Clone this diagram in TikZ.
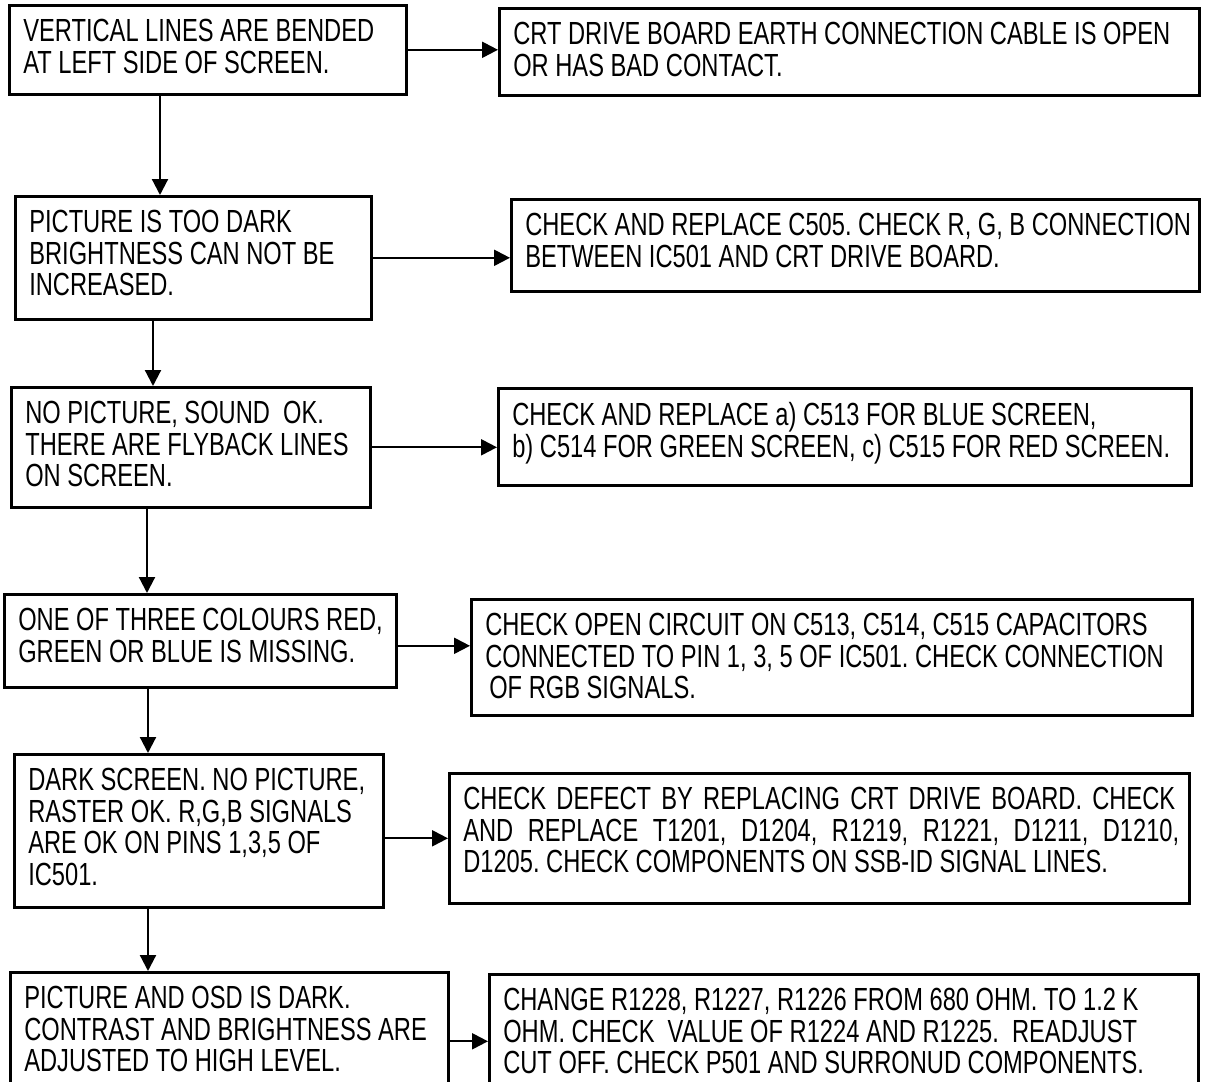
\documentclass[tikz,border=0pt]{standalone}
\usepackage{fontspec}
\usepackage{tikz}
\usetikzlibrary{arrows.meta}

\newfontfamily\condfont[FakeStretch=0.74]{Liberation Sans}
\frenchspacing
% box contents: width and height in pixels of the drawing
\newcommand{\cell}[3]{\parbox[c][\dimexpr#2pt/2-14pt\relax][t]{\dimexpr#1pt/2-14pt\relax}{\begin{tabular}{@{}l@{}}#3\end{tabular}}}

\tikzset{
  fault/.style={draw, line width=1.3pt, anchor=north west, inner xsep=7pt, inner ysep=7pt,
                font=\condfont\fontsize{16}{15.5}\selectfont},
  flow/.style={line width=1.1pt, -{Triangle[length=8pt,width=8pt]}}
}

\begin{document}
\begin{tikzpicture}[x=0.5pt, y=-0.5pt]
             \useasboundingbox (0,0) rectangle (1207,1082);

             \node[fault] (l1) at (8,4) {\cell{397}{89}{VERTICAL LINES ARE BENDED\\AT LEFT SIDE OF SCREEN.}};
             \node[fault] (r1) at (498,7) {\cell{700}{87}{CRT DRIVE BOARD EARTH CONNECTION CABLE IS OPEN\\OR HAS BAD CONTACT.}};

             \node[fault] (l2) at (14,195) {\cell{356}{123}{PICTURE IS TOO DARK\\BRIGHTNESS CAN NOT BE\\INCREASED.}};
             \node[fault] (r2) at (510,198) {\cell{688}{92}{CHECK AND REPLACE C505. CHECK R, G, B CONNECTION\\BETWEEN IC501 AND CRT DRIVE BOARD.}};

             \node[fault] (l3) at (10,386) {\cell{359}{120}{NO PICTURE, SOUND~~OK.\\THERE ARE FLYBACK LINES\\ON SCREEN.}};
             \node[fault] (r3) at (497,387) {\cell{693}{97}{CHECK AND REPLACE a) C513 FOR BLUE SCREEN,\\b) C514 FOR GREEN SCREEN, c) C515 FOR RED SCREEN.}};

             \node[fault] (l4) at (3,593) {\cell{392}{93}{ONE OF THREE COLOURS RED,\\GREEN OR BLUE IS MISSING.}};
             \node[fault] (r4) at (470,598) {\cell{721}{116}{CHECK OPEN CIRCUIT ON C513, C514, C515 CAPACITORS\\CONNECTED TO PIN 1, 3, 5 OF IC501. CHECK CONNECTION\\\hspace*{2pt}OF RGB SIGNALS.}};

             \node[fault] (l5) at (13,753) {\cell{369}{153}{DARK SCREEN. NO PICTURE,\\RASTER OK. R,G,B SIGNALS\\ARE OK ON PINS 1,3,5 OF\\IC501.}};
             \node[fault] (r5) at (448,772) {\cell{740}{130}{\makebox[356pt][s]{CHECK DEFECT BY REPLACING CRT DRIVE BOARD. CHECK}\\\makebox[358pt][s]{AND REPLACE T1201, D1204, R1219, R1221, D1211, D1210,}\\D1205. CHECK COMPONENTS ON SSB-ID SIGNAL LINES.}};

             \node[fault] (l6) at (9,971) {\cell{438}{138}{PICTURE AND OSD IS DARK.\\CONTRAST AND BRIGHTNESS ARE\\ADJUSTED TO HIGH LEVEL.}};
             \node[fault] (r6) at (488,973) {\cell{709}{134}{CHANGE R1228, R1227, R1226 FROM 680 OHM. TO 1.2 K\\OHM. CHECK~~VALUE OF R1224 AND R1225.~~READJUST\\CUT OFF. CHECK P501 AND SURRONUD COMPONENTS.}};

             \draw[flow] (l1.east) -- (l1.east -| r1.west);
             \draw[flow] (l2.east) -- (l2.east -| r2.west);
             \draw[flow] (l3.east) -- (l3.east -| r3.west);
             \draw[flow] ([yshift=-2.5pt]l4.east) -- ([yshift=-2.5pt]l4.east -| r4.west);
             \draw[flow] (r5.west -| l5.east) -- (r5.west);
             \draw[flow] (l6.east) -- (l6.east -| r6.west);

             \draw[flow] ([xshift=76pt]l1.south west) -- ([xshift=76pt]l1.south west |- l2.north);
             \draw[flow] ([xshift=69.5pt]l2.south west) -- ([xshift=69.5pt]l2.south west |- l3.north);
             \draw[flow] ([xshift=68.5pt]l3.south west) -- ([xshift=68.5pt]l3.south west |- l4.north);
             \draw[flow] ([xshift=72.5pt]l4.south west) -- ([xshift=72.5pt]l4.south west |- l5.north);
             \draw[flow] ([xshift=67.5pt]l5.south west) -- ([xshift=67.5pt]l5.south west |- l6.north);
\end{tikzpicture}
\end{document}
